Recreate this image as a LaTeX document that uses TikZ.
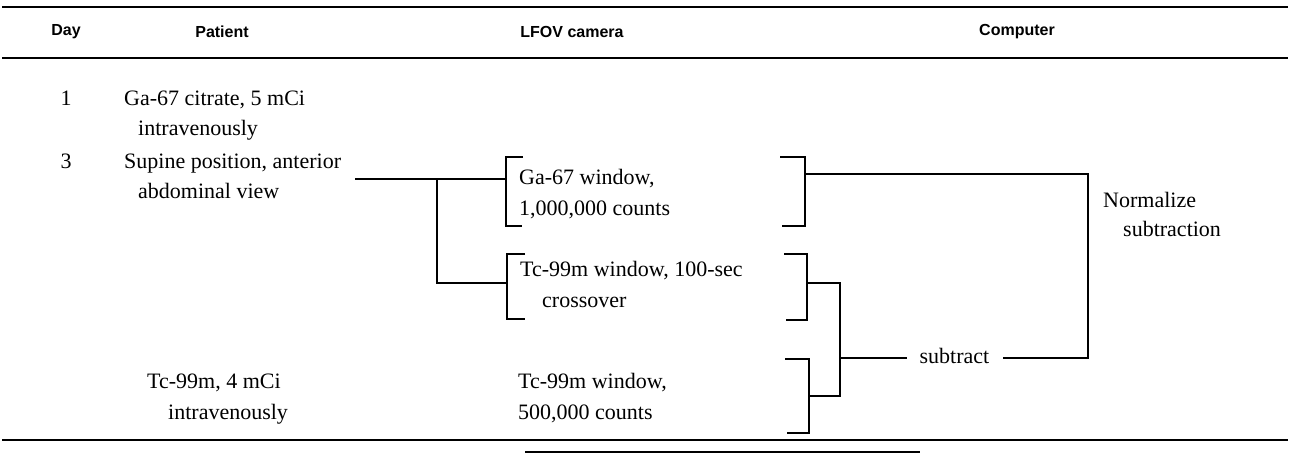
\documentclass[tikz,border=0pt]{standalone}
\usepackage{fontspec}
\setmainfont{Liberation Serif}
\newfontfamily\hdfont{Liberation Sans}
\begin{document}
\begin{tikzpicture}[x=1pt,y=-1pt,
  hd/.style={font=\hdfont\bfseries\fontsize{16}{19}\selectfont, inner sep=0pt, anchor=center},
  tx/.style={font=\fontsize{22}{26}\selectfont, inner sep=0pt, anchor=base west},
  txc/.style={font=\fontsize{22}{26}\selectfont, inner sep=0pt, anchor=base},
  rule/.style={line width=1.5pt},
  ln/.style={line width=1.9pt, line join=miter}]
\useasboundingbox (0,0) rectangle (1290,455);
% rules
\draw[rule] (2,7) -- (1288,7);
\draw[rule] (2,58) -- (1288,58);
\draw[rule] (2,440) -- (1288,440);
\draw[line width=1.8pt] (525,452) -- (920,452);
% headers
\node[hd] (hday) at (66,32) {Day};
\node[hd] (hpat) at (222,32) {Patient};
\node[hd] (hcam) at (572,32) {LFOV camera};
\node[hd] (hcomp) at (1017,32) {Computer};
% day column
\node[txc] (d1) at (66,105) {1};
\node[txc] (d3) at (66,168) {3};
% patient column
\node[tx] (p1a) at (124,105) {Ga-67 citrate, 5 mCi};
\node[tx] (p1b) at (138,135) {intravenously};
\node[tx] (p3a) at (124,168) {Supine position, anterior};
\node[tx] (p3b) at (138,198) {abdominal view};
\node[tx] (p4a) at (147,388) {Tc-99m, 4 mCi};
\node[tx] (p4b) at (168,419) {intravenously};
% camera column
\node[tx] (c1a) at (519,184) {Ga-67 window,};
\node[tx] (c1b) at (519,215) {1,000,000 counts};
\node[tx] (c2a) at (520,276) {Tc-99m window, 100-sec};
\node[tx] (c2b) at (542,307) {crossover};
\node[tx] (c3a) at (518,388) {Tc-99m window,};
\node[tx] (c3b) at (518,419) {500,000 counts};
% computer column
\node[tx] (n1) at (1103,207) {Normalize};
\node[tx] (n2) at (1123,236) {subtraction};
\node[txc] (sub) at (954.5,363) {subtract};
% coordinates
\coordinate (s0) at (355,179);
\coordinate (j1) at (437,179);
\coordinate (b1L) at (506,179);
\coordinate (b2L) at (507,283);
\coordinate (b1R) at (805,174);
\coordinate (b2R) at (807,283);
\coordinate (b3R) at (809,396);
\coordinate (m1) at (840,283);
\coordinate (m2) at (840,396);
\coordinate (m3) at (840,358);
\coordinate (sl) at (907,358);
\coordinate (sr) at (1003,358);
\coordinate (r1) at (1088,358);
\coordinate (r2) at (1088,174);
% brackets
\draw[ln] (523,157) -- (506,157) -- (506,226) -- (522,226);
\draw[ln] (525,254) -- (507,254) -- (507,319) -- (525,319);
\draw[ln] (780,157) -- (805,157) -- (805,226) -- (782,226);
\draw[ln] (784,254) -- (807,254) -- (807,320) -- (786,320);
\draw[ln] (785,359) -- (809,359) -- (809,433) -- (787,433);
% connectors
\draw[ln] (s0) -- (b1L);
\draw[ln] (j1) |- (b2L);
\draw[ln] (b2R) -- (m1) -- (m2) -- (b3R);
\draw[ln] (m3) -- (sl);
\draw[ln] (sr) -- (r1) -- (r2) -- (b1R);
\end{tikzpicture}
\end{document}
